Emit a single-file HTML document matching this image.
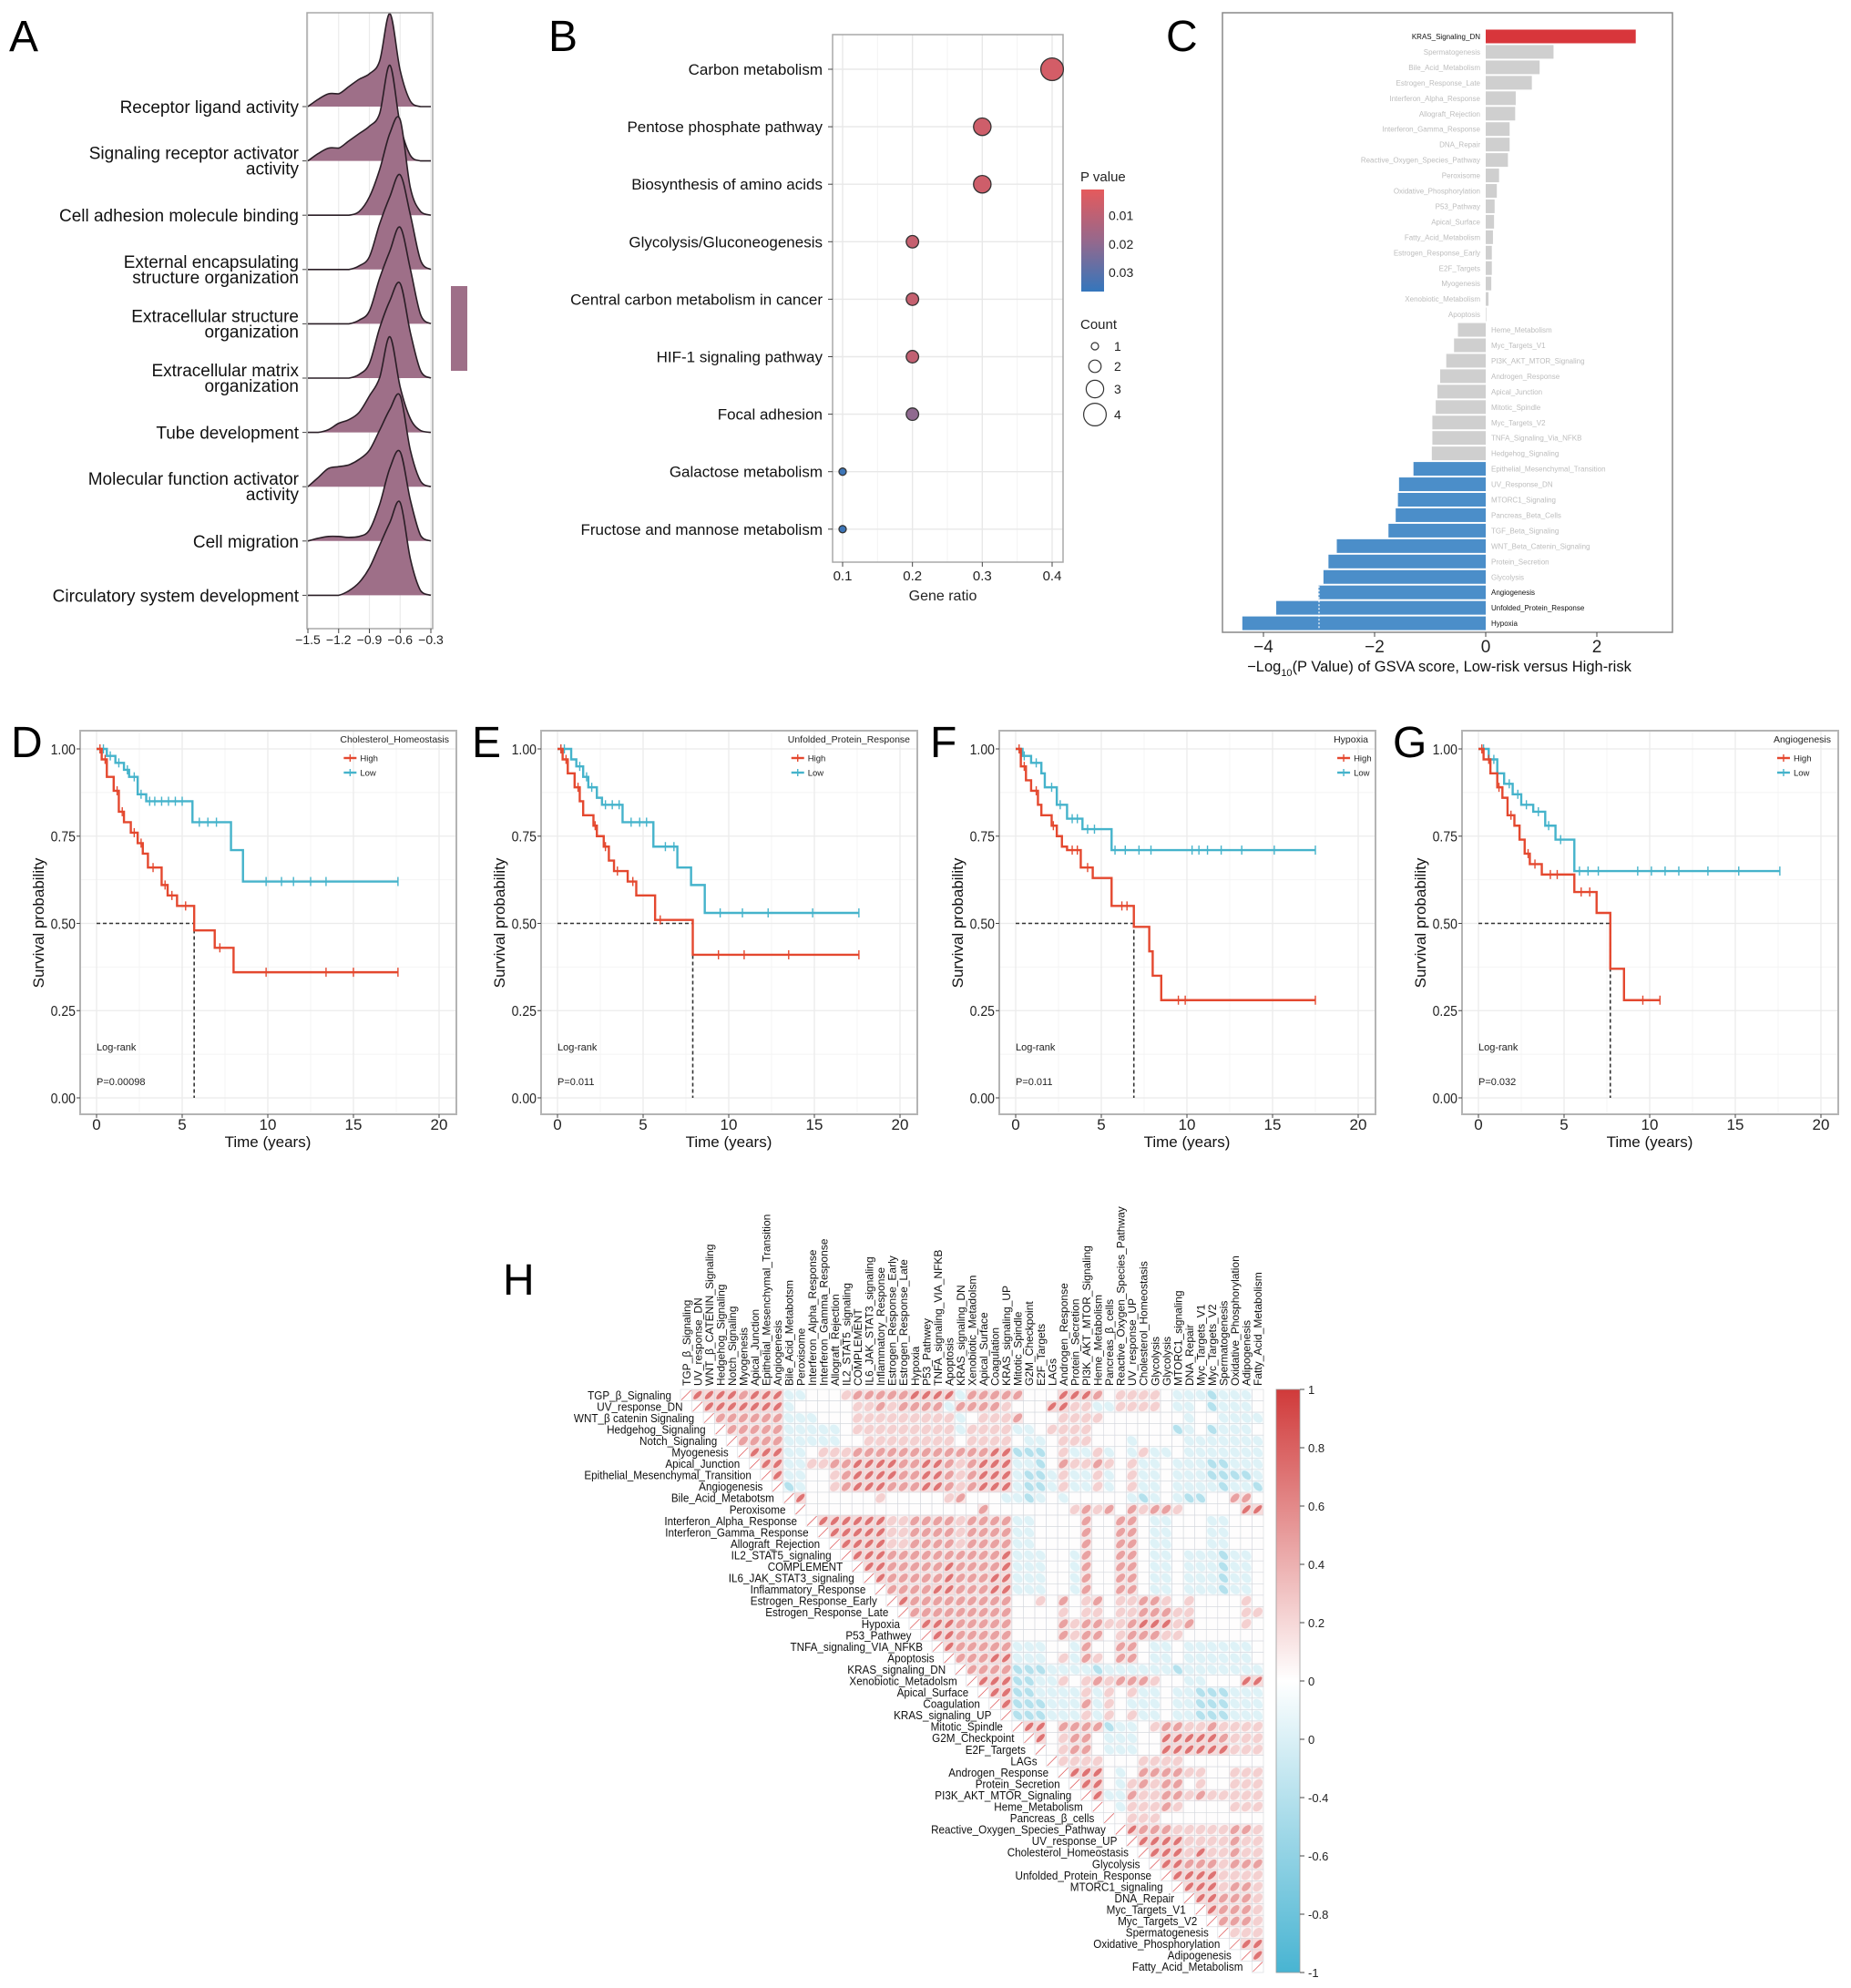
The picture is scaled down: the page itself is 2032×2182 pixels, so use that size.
<!DOCTYPE html>
<html><head><meta charset="utf-8"><style>
html,body{margin:0;padding:0;background:#fff;}
svg{display:block;}
</style></head><body>
<svg id="fig" width="2032" height="2182" viewBox="0 0 2032 2182" xmlns="http://www.w3.org/2000/svg" font-family="Liberation Sans, Arial, sans-serif">
<rect x="0" y="0" width="2032" height="2182" fill="#fff"/>
</svg>
<script>
// ---------- Panel A data ----------
const ridgeNames = [["Receptor ligand activity"],["Signaling receptor activator","activity"],["Cell adhesion molecule binding"],["External encapsulating","structure organization"],["Extracellular structure","organization"],["Extracellular matrix","organization"],["Tube development"],["Molecular function activator","activity"],["Cell migration"],["Circulatory system development"]];
const ridgeGrid = [-1.5,-1.4,-1.3,-1.2,-1.1,-1.0,-0.9,-0.8,-0.7,-0.6,-0.5,-0.4,-0.3];
const ridge0 = [0,8,14,14,22,30,36,50,102,40,6,0,0];
const ridge1 = [0,8,14,14,22,30,38,52,105,40,6,0,0];
const ridge2 = [0,0,0,0,0,4,20,50,90,105,30,4,0];
const ridge3 = [0,0,0,0,0,4,14,50,80,104,60,10,0];
const ridge4 = [0,0,0,0,0,4,14,50,80,106,60,10,0];
const ridge5 = [0,0,0,0,0,4,16,55,85,104,50,8,0];
const ridge6 = [0,0,3,10,14,22,40,60,105,50,15,2,0];
const ridge7 = [0,10,20,22,24,30,40,62,85,100,40,6,0];
const ridge8 = [0,3,5,5,4,5,12,40,80,98,45,6,0];
const ridge9 = [0,0,0,0,5,14,30,55,80,102,40,5,0];
const ridgeTicks = [-1.5,-1.2,-0.9,-0.6,-0.3];
const ridgeTickLabels = ["\u22121.5","\u22121.2","\u22120.9","\u22120.6","\u22120.3"];

// ---------- Panel B data ----------
const keggTerms = ["Carbon metabolism","Pentose phosphate pathway","Biosynthesis of amino acids","Glycolysis/Gluconeogenesis","Central carbon metabolism in cancer","HIF-1 signaling pathway","Focal adhesion","Galactose metabolism","Fructose and mannose metabolism"];
const keggRatio = [0.4,0.3,0.3,0.2,0.2,0.2,0.2,0.1,0.1];
const keggCount = [4,3,3,2,2,2,2,1,1];
const keggP = [0.005,0.006,0.006,0.008,0.008,0.009,0.02,0.035,0.035];
const keggTicks = [0.1,0.2,0.3,0.4];
const pLegendTicks = [0.01,0.02,0.03];
const countLegend = [1,2,3,4];

// ---------- Panel C data ----------
const gsvaNames = ["KRAS_Signaling_DN","Spermatogenesis","Bile_Acid_Metabolism","Estrogen_Response_Late","Interferon_Alpha_Response","Allograft_Rejection","Interferon_Gamma_Response","DNA_Repair","Reactive_Oxygen_Species_Pathway","Peroxisome","Oxidative_Phosphorylation","P53_Pathway","Apical_Surface","Fatty_Acid_Metabolism","Estrogen_Response_Early","E2F_Targets","Myogenesis","Xenobiotic_Metabolism","Apoptosis","Heme_Metabolism","Myc_Targets_V1","PI3K_AKT_MTOR_Signaling","Androgen_Response","Apical_Junction","Mitotic_Spindle","Myc_Targets_V2","TNFA_Signaling_Via_NFKB","Hedgehog_Signaling","Epithelial_Mesenchymal_Transition","UV_Response_DN","MTORC1_Signaling","Pancreas_Beta_Cells","TGF_Beta_Signaling","WNT_Beta_Catenin_Signaling","Protein_Secretion","Glycolysis","Angiogenesis","Unfolded_Protein_Response","Hypoxia"];
const gsvaValues = [2.70,1.22,0.97,0.83,0.54,0.53,0.43,0.43,0.40,0.24,0.20,0.16,0.15,0.13,0.11,0.11,0.10,0.05,0.01,-0.50,-0.57,-0.71,-0.82,-0.87,-0.90,-0.96,-0.96,-0.97,-1.30,-1.56,-1.58,-1.62,-1.75,-2.68,-2.83,-2.92,-3.01,-3.77,-4.38];
const gsvaHighlight = ["KRAS_Signaling_DN","Angiogenesis","Unfolded_Protein_Response","Hypoxia"];
const gsvaTicks = [-4,-2,0,2];

// ---------- KM data ----------
const kmTitles = ["Cholesterol_Homeostasis","Unfolded_Protein_Response","Hypoxia","Angiogenesis"];
const kmLetters = ["D","E","F","G"];
const kmPvals = ["P=0.00098","P=0.011","P=0.011","P=0.032"];
const kmMedians = [5.7,7.9,6.9,7.7];
const kmHighT = [[0,0.3,0.6,1.0,1.3,1.6,2.0,2.4,2.7,3.0,3.8,4.15,4.7,5.7,6.9,8.0],[0,0.3,0.6,1.0,1.3,1.5,2.1,2.3,2.7,3.0,3.3,4.1,4.6,5.7,7.9],[0,0.3,0.6,0.9,1.3,1.5,2.1,2.4,2.7,3.0,3.8,4.5,5.6,6.9,7.8,8.0,8.5],[0,0.3,0.7,1.1,1.4,1.7,2.1,2.4,2.7,3.0,3.7,5.6,6.9,7.7,8.5]];
const kmHighS = [[1,0.97,0.92,0.88,0.82,0.79,0.76,0.73,0.70,0.66,0.61,0.58,0.55,0.48,0.43,0.36],[1,0.97,0.93,0.89,0.85,0.81,0.78,0.75,0.72,0.68,0.65,0.62,0.58,0.51,0.41],[1,0.95,0.91,0.88,0.84,0.81,0.78,0.75,0.72,0.71,0.66,0.63,0.55,0.49,0.42,0.35,0.28],[1,0.97,0.93,0.89,0.86,0.81,0.78,0.74,0.70,0.67,0.64,0.59,0.53,0.37,0.28]];
const kmHighEnd = [17.6,17.6,17.5,10.6];
const kmLowT = [[0,0.6,1.1,1.6,1.9,2.4,2.9,5.6,7.85,8.55],[0,0.8,1.1,1.5,1.8,2.3,2.6,3.8,5.6,7.0,7.8,8.6],[0,0.4,0.9,1.5,1.7,2.4,3.0,3.9,5.6],[0,0.6,1.1,1.5,2.0,2.5,3.2,3.9,4.5,5.6]];
const kmLowS = [[1,0.98,0.96,0.94,0.92,0.87,0.85,0.79,0.71,0.62],[1,0.97,0.95,0.92,0.89,0.86,0.84,0.79,0.72,0.66,0.61,0.53],[1,0.98,0.96,0.93,0.89,0.84,0.80,0.77,0.71],[1,0.97,0.93,0.90,0.87,0.84,0.82,0.78,0.74,0.65]];
const kmLowEnd = [17.6,17.6,17.5,17.6];
const kmHighCens = [[0.2,0.5,1.2,1.5,2.2,2.6,3.3,4.0,4.4,5.2,7.2,9.9,13.4,15.0,17.6],[0.2,0.5,1.2,2.2,2.8,3.5,4.4,6.0,9.4,10.9,13.5,17.6],[0.2,0.5,1.2,2.2,3.3,3.6,4.2,6.2,6.5,9.5,9.9,17.5],[0.2,0.6,1.2,1.9,2.9,3.3,4.2,4.6,6.0,6.5,9.6,10.6]];
const kmLowCens = [[0.4,0.8,1.3,1.8,2.2,2.6,3.1,3.4,3.8,4.2,4.6,5.0,6.0,6.5,7.0,9.9,10.8,11.5,12.5,13.4,17.6],[0.2,0.4,1.3,1.7,2.0,2.8,3.2,3.6,4.3,4.8,5.2,6.3,6.8,9.5,10.8,12.3,14.9,17.6],[0.5,1.2,2.1,2.6,3.3,3.6,4.2,4.6,5.8,6.4,7.2,7.9,10.3,10.7,11.2,12.0,13.2,15.1,17.5],[0.3,0.9,1.8,2.3,2.8,3.5,4.1,4.8,5.9,6.4,7.0,9.3,10.1,10.9,11.7,13.4,15.2,17.6]];
const kmYTicks = [0,0.25,0.5,0.75,1];
const kmYLabels = ["0.00","0.25","0.50","0.75","1.00"];
const kmXTicks = [0,5,10,15,20];

// ---------- Heatmap H data ----------
const hmRowNames = ["TGP_\u03b2_Signaling","UV_response_DN","WNT_\u03b2 catenin Signaling","Hedgehog_Signaling","Notch_Signaling","Myogenesis","Apical_Junction","Epithelial_Mesenchymal_Transition","Angiogenesis","Bile_Acid_Metabotsm","Peroxisome","Interferon_Alpha_Response","Interferon_Gamma_Response","Allograft_Rejection","IL2_STAT5_signaling","COMPLEMENT","IL6_JAK_STAT3_signaling","Inflammatory_Response","Estrogen_Response_Early","Estrogen_Response_Late","Hypoxia","P53_Pathwey","TNFA_signaling_VIA_NFKB","Apoptosis","KRAS_signaling_DN","Xenobiotic_Metadolsm","Apical_Surface","Coagulation","KRAS_signaling_UP","Mitotic_Spindle","G2M_Checkpoint","E2F_Targets","LAGs","Androgen_Response","Protein_Secretion","PI3K_AKT_MTOR_Signaling","Heme_Metabolism","Pancreas_\u03b2_cells","Reactive_Oxygen_Species_Pathway","UV_response_UP","Cholesterol_Homeostasis","Glycolysis","Unfolded_Protein_Response","MTORC1_signaling","DNA_Repair","Myc_Targets_V1","Myc_Targets_V2","Spermatogenesis","Oxidative_Phosphorylation","Adipogenesis","Fatty_Acid_Metabolism"];
const hmColNames = ["TGP_\u03b2_Signaling","UV_response_DN","WNT_\u03b2_CATENIN_Signaling","Hedgehog_Signaling","Notch_Signaling","Myogenesis","Apical_Junction","Epithelial_Mesenchymal_Transition","Angiogenesis","Bile_Acid_Metabotsm","Peroxisome","Interferon_Alpha_Response","Interferon_Gamma_Response","Allograft_Rejection","IL2_STAT5_signaling","COMPLEMENT","IL6_JAK_STAT3_signaling","Inflammatory_Response","Estrogen_Response_Early","Estrogen_Response_Late","Hypoxia","P53_Pathwey","TNFA_signaling_VIA_NFKB","Apoptosis","KRAS_signaling_DN","Xenobiotic_Metadolsm","Apical_Surface","Coagulation","KRAS_signaling_UP","Mitotic_Spindle","G2M_Checkpoint","E2F_Targets","LAGs","Androgen_Response","Protein_Secretion","PI3K_AKT_MTOR_Signaling","Heme_Metabolism","Pancreas_\u03b2_cells","Reactive_Oxygen_Species_Pathway","UV_response_UP","Cholesterol_Homeostasis","Glycolysis","Glycolysis","MTORC1_signaling","DNA_Repair","Myc_Targets_V1","Myc_Targets_V2","Spermatogenesis","Oxidative_Phosphorylation","Adipogenesis","Fatty_Acid_Metabolism"];
// level codes: R=0.75 r=0.5 p=0.25 w=0.05 b=-0.2 B=-0.45 ; row i covers columns i+1..50
const hmLevels = {R:0.75,r:0.5,p:0.25,w:0.05,b:-0.2,B:-0.45};
const hmRows = [
"RRRRrRRRbbwwwprrrrrRRRRbrrrrrwwwRRRrwppppwbbbBbbb",
"RRRRRRRbwwwwwpprprrrrbrrrrpwwwRRppbbppppwbbwBbbb",
"rrrrrrbbbwwwpppppppppbwppprwwwppppwwwwwwwbwwbbbb",
"rrrrrbbbbbwpppppppppbppppbbwppppwwwwwwwBbwBbbb",
"rrrrbbbbbwwppppppppwppppwbbwpppwwwbwwwwbbbbbbb",
"RRRbbwppprrrrrrrrrrrrRRBBBwpbbpbwbpbbwbbbbbbb",
"RRbbpprrRRRRrrRRrprRRRbbBwrpprpwpbbwbbbBBbbb",
"RbbwwprRRRRrrRRrprRRRbBBbpbbpbwpbbwbbbBBBBb",
"BbwwprRRRrrrRRrprRRRbBBbpbbpbwpbbwbbbbBbbB",
"RwwwwwwpwwwwwprwwwbbBbwbwwwwwbBbwbBBwwrr",
"wwwwwwwwwwwwwwwrwwwwwwwprprwrprrpwwwwwRRR",
"RRRRRRpprrrrprrrrbbwwwwrwwrrwbbwwwbbwww",
"RRRRRpprrrrprrrrbbwwwwrwwrrwbbwwwbbwww",
"RRRRpprrrrprrrrbbwwwwrwwrrwbbwwwbbwww",
"RRRrrrrrrrrrrRbbbwwbrwwrrwbbwbbbBbbw",
"RRrrrrrRrrrrRbbbwwbrwwrrwbbwbbbBbbw",
"RrrrrrRrrrRRbbbwwbrwwrrwbbwbbbBbbw",
"rrrrRRrrrRRbbbwwbrwwrrwbbwbbbBbbw",
"Rrrrrrrrrrwwpwrwprwpprrpwpwwwwpw",
"rrrrrrrrrwwwwpwppwpprrrppwwwwpp",
"RRRrrrrrwwwwrprrpprRRRprwwwwpw",
"RRrrrrrwwwwrprrwprrrppwwwwwww",
"Rrrrrrbbbwwbrwwrrwbbwbbbbbbw",
"rrrRRbbbwpbrpwrrwbbwbbbbbbw",
"rrrrBBBbbbbBbbbbbbBbbbbbbb",
"RRRBBbbpwprprrrpwwbbwwwRR",
"RRBBbbbbpbpwpbbwbbBBBbbb",
"RBBBbbbrbpwbbbwbbBBBbbb",
"BBBbbbpbpwpbbwbbBBBbbb",
"RRwrrrrBbbwprrpprpppp",
"RwprrwbbbwwRRRRRrppp",
"wprrwbbbwwRRRRRRppp",
"ppppwwwppppwwwwwww",
"RRRwbwrrrrppwwppp",
"RRwbprprrwpwwppp",
"Rbbrpprrprppppp",
"wbppprpwwwwppp",
"wpppwwwwwwwww",
"Rrrrppppprrp",
"RRRRpppprpp",
"RRRpRpprpp",
"RRrrrprrr",
"RRRRpppp",
"RRRprrp",
"RRrrrp",
"Rrrrp",
"rrrp",
"ppp",
"RR",
"R",
""
];
const cbLabels = ["1","0.8","0.6","0.4","0.2","0","0","-0.4","-0.6","-0.8","-1"];

// ---------- helpers ----------
const NS = "http://www.w3.org/2000/svg";
const svg = document.getElementById("fig");
function mk(tag, attrs, parent) {
  const e = document.createElementNS(NS, tag);
  for (const k in attrs) e.setAttribute(k, attrs[k]);
  (parent || svg).appendChild(e);
  return e;
}
function tx(str, attrs, parent) { const e = mk("text", attrs, parent); e.textContent = str; return e; }
function grp(parent) { return mk("g", {}, parent); }
function smoothPath(pts) {
  let d = "M" + pts[0][0].toFixed(2) + "," + pts[0][1].toFixed(2);
  for (let i = 0; i < pts.length - 1; i++) {
    const p0 = pts[Math.max(0, i - 1)], p1 = pts[i], p2 = pts[i + 1], p3 = pts[Math.min(pts.length - 1, i + 2)];
    const c1x = p1[0] + (p2[0] - p0[0]) / 6, c1y = p1[1] + (p2[1] - p0[1]) / 6;
    const c2x = p2[0] - (p3[0] - p1[0]) / 6, c2y = p2[1] - (p3[1] - p1[1]) / 6;
    d += " C" + c1x.toFixed(2) + "," + Math.min(c1y, Math.max(p1[1], p2[1])).toFixed(2) + " " + c2x.toFixed(2) + "," + Math.min(c2y, Math.max(p1[1], p2[1])).toFixed(2) + " " + p2[0].toFixed(2) + "," + p2[1].toFixed(2);
  }
  return d;
}
function letter(ch, x, y, name) {
  const t = tx(ch, {x: x, y: y, "font-size": 48, fill: "#000"});
  
  
}

// ================= Panel A =================
(function () {
  const g = grp();
  
  
  const ax = v => 338 + (v + 1.5) / 1.2 * 135;
  const ay = i => 117 + i * 59.6;
  letter("A", 10, 56, "panel-letter-a");
  ridgeTicks.forEach(v => { const l = mk("line", {x1: ax(v), x2: ax(v), y1: 14, y2: 690, stroke: "#ebebeb", "stroke-width": 1.2}, g);   });
  const ridges = [ridge0, ridge1, ridge2, ridge3, ridge4, ridge5, ridge6, ridge7, ridge8, ridge9];
  ridges.forEach((dens, i) => {
    const base = ay(i);
    const pts = ridgeGrid.map((v, k) => [ax(v), base - dens[k]]);
    const d = smoothPath(pts);
    const area = mk("path", {d: d + " L" + ax(-0.3) + "," + base + " L" + ax(-1.5) + "," + base + " Z", fill: "#9e6f88", stroke: "none"}, g);
    
    
    const line = mk("path", {d: d, fill: "none", stroke: "#2a1e26", "stroke-width": 1.6}, g);
    
    
    const names = ridgeNames[i];
    names.forEach((n, k) => {
      const yy = names.length === 1 ? base + 7 : base - 2 + (k) * 17;
      const t = tx(n, {x: 328, y: yy, "text-anchor": "end", "font-size": 19, fill: "#111"}, g);
      
      
    });
    const tk = mk("line", {x1: 332, x2: 337, y1: base, y2: base, stroke: "#444", "stroke-width": 1}, g);
    
    
  });
  const box = mk("rect", {x: 337, y: 14, width: 138, height: 676, fill: "none", stroke: "#a8a8a8", "stroke-width": 1.5}, g);
  
  
  ridgeTicks.forEach((v, k) => {
    const t = mk("line", {x1: ax(v), x2: ax(v), y1: 690, y2: 695, stroke: "#444"}, g);
    
    
    const l = tx(ridgeTickLabels[k], {x: ax(v), y: 707, "text-anchor": "middle", "font-size": 14, fill: "#222"}, g);
    
    
  });
  const leg = mk("rect", {x: 495, y: 314, width: 18, height: 93, fill: "#9e6f88"}, g);
  
  
})();

// ================= Panel B =================
(function () {
  const g = grp();
  
  
  letter("B", 602, 56, "panel-letter-b");
  const bx = v => 925 + (v - 0.1) / 0.3 * 230;
  const by = i => 76 + i * 63.1;
  const rr = c => 4 + (c - 1) * 2.8;
  function pColor(p) {
    let t = (p - 0.0008) / (0.0367 - 0.0008); t = Math.max(0, Math.min(1, t));
    const s = [[229, 90, 92], [150, 104, 140], [52, 118, 188]];
    let a, b, u;
    if (t < 0.5) { a = s[0]; b = s[1]; u = t / 0.5; } else { a = s[1]; b = s[2]; u = (t - 0.5) / 0.5; }
    return "rgb(" + a.map((c, k) => Math.round(c + (b[k] - c) * u)).join(",") + ")";
  }
  [0.15, 0.25, 0.35].forEach(v => { const l = mk("line", {x1: bx(v), x2: bx(v), y1: 38, y2: 617, stroke: "#f3f3f3", "stroke-width": 1}, g);   });
  keggTicks.forEach(v => { const l = mk("line", {x1: bx(v), x2: bx(v), y1: 38, y2: 617, stroke: "#e8e8e8", "stroke-width": 1.4}, g);   });
  keggTerms.forEach((n, i) => {
    const l = mk("line", {x1: 914, x2: 1167, y1: by(i), y2: by(i), stroke: "#e8e8e8", "stroke-width": 1.4}, g);
    
    
  });
  const box = mk("rect", {x: 914, y: 38, width: 253, height: 579, fill: "none", stroke: "#a8a8a8", "stroke-width": 1.5}, g);
  
  
  keggTerms.forEach((n, i) => {
    const t = tx(n, {x: 903, y: by(i) + 6, "text-anchor": "end", "font-size": 17, fill: "#111"}, g);
    
    
    const tk = mk("line", {x1: 909, x2: 914, y1: by(i), y2: by(i), stroke: "#444"}, g);
    
    
    const c = mk("circle", {cx: bx(keggRatio[i]), cy: by(i), r: rr(keggCount[i]), fill: pColor(keggP[i]), stroke: "#333", "stroke-width": 1.3}, g);
    
    
  });
  keggTicks.forEach(v => {
    const tk = mk("line", {x1: bx(v), x2: bx(v), y1: 617, y2: 622, stroke: "#444"}, g);
    
    
    const t = tx(String(v), {x: bx(v), y: 637, "text-anchor": "middle", "font-size": 15, fill: "#222"}, g);
    
    
  });
  const xt = tx("Gene ratio", {x: 1035, y: 659, "text-anchor": "middle", "font-size": 16, fill: "#222"}, g);
  
  
  const pt = tx("P value", {x: 1186, y: 199, "font-size": 15, fill: "#222"}, g);
  
  
  const defs = mk("defs", {}, g);
  const lg = mk("linearGradient", {id: "pgrad", x1: 0, y1: 0, x2: 0, y2: 1}, defs);
  mk("stop", {offset: "0", "stop-color": pColor(0.0008)}, lg);
  mk("stop", {offset: "0.5", "stop-color": pColor(0.01875)}, lg);
  mk("stop", {offset: "1", "stop-color": pColor(0.0367)}, lg);
  const cb = mk("rect", {x: 1187, y: 208, width: 25, height: 112, fill: "url(#pgrad)"}, g);
  
  
  const py = p => 208 + (p - 0.0008) / (0.0367 - 0.0008) * 112;
  pLegendTicks.forEach(p => {
    const t = tx(String(p), {x: 1217, y: py(p) + 5, "font-size": 14, fill: "#222"}, g);
    
    
  });
  const ct = tx("Count", {x: 1186, y: 361, "font-size": 15, fill: "#222"}, g);
  
  
  const cys = [380, 402, 427, 455];
  countLegend.forEach((c, k) => {
    const cc = mk("circle", {cx: 1202, cy: cys[k], r: rr(c), fill: "none", stroke: "#333", "stroke-width": 1.2}, g);
    
    
    const t = tx(String(c), {x: 1223, y: cys[k] + 5, "font-size": 14, fill: "#222"}, g);
    
    
  });
})();

// ================= Panel C =================
(function () {
  const g = grp();
  
  
  letter("C", 1280, 56, "panel-letter-c");
  const cx = v => 1631 + v * 61;
  const cy = i => 40 + i * 16.95;
  gsvaValues.forEach((v, i) => {
    const col = v > 2 ? "#d8363b" : (v < -1.2 ? "#4b8ec9" : "#cfcfcf");
    const x = Math.min(cx(0), cx(v));
    const r = mk("rect", {x: x, y: cy(i) - 7.5, width: Math.abs(cx(v) - cx(0)), height: 15, fill: col}, g);
    
    
    const hl = gsvaHighlight.indexOf(gsvaNames[i]) >= 0;
    const t = tx(gsvaNames[i], {x: v >= 0 ? cx(0) - 6 : cx(0) + 6, y: cy(i) + 3, "text-anchor": v >= 0 ? "end" : "start", "font-size": 8, fill: hl ? "#111" : "#bdbdbd"}, g);
    
    
  });
  const dl = mk("line", {x1: cx(-3.0), x2: cx(-3.0), y1: cy(36) - 7, y2: cy(38) + 7, stroke: "#fff", "stroke-width": 1.2, "stroke-dasharray": "2,2"}, g);
  
  
  const box = mk("rect", {x: 1342, y: 14, width: 494, height: 680, fill: "none", stroke: "#888", "stroke-width": 1.5}, g);
  
  
  gsvaTicks.forEach(v => {
    const tk = mk("line", {x1: cx(v), x2: cx(v), y1: 694, y2: 699, stroke: "#444"}, g);
    
    
    const t = tx(v < 0 ? "\u2212" + Math.abs(v) : String(v), {x: cx(v), y: 716, "text-anchor": "middle", "font-size": 19, fill: "#222"}, g);
    
    
  });
  const at = mk("text", {x: 1580, y: 737, "text-anchor": "middle", "font-size": 16.5, fill: "#111"}, g);
  
  
  const s1 = mk("tspan", {}, at); s1.textContent = "\u2212Log";
  const s2 = mk("tspan", {dy: 5, "font-size": 11}, at); s2.textContent = "10";
  const s3 = mk("tspan", {dy: -5}, at); s3.textContent = "(P Value) of GSVA score, Low-risk versus High-risk";
})();

// ================= KM panels D-G =================
(function () {
  const lefts = [88, 594, 1097, 1605];
  kmTitles.forEach((title, p) => {
    const L = lefts[p];
    const g = grp();
    
    
    const tX = t => L + 18 + t * 18.8;
    const sY = s => 1205 - s * 383;
    letter(kmLetters[p], L - 76, 831, "panel-letter-" + kmLetters[p].toLowerCase());
    [2.5, 7.5, 12.5, 17.5].forEach(t => { const l = mk("line", {x1: tX(t), x2: tX(t), y1: 802, y2: 1223, stroke: "#f4f4f4", "stroke-width": 1}, g);   });
    [0.125, 0.375, 0.625, 0.875].forEach(s => { const l = mk("line", {x1: L, x2: L + 413, y1: sY(s), y2: sY(s), stroke: "#f4f4f4", "stroke-width": 1}, g);   });
    kmXTicks.forEach(t => { const l = mk("line", {x1: tX(t), x2: tX(t), y1: 802, y2: 1223, stroke: "#ebebeb", "stroke-width": 1.3}, g);   });
    kmYTicks.forEach(s => { const l = mk("line", {x1: L, x2: L + 413, y1: sY(s), y2: sY(s), stroke: "#ebebeb", "stroke-width": 1.3}, g);   });
    const med = kmMedians[p];
    const mh = mk("line", {x1: tX(0), x2: tX(med), y1: sY(0.5), y2: sY(0.5), stroke: "#333", "stroke-width": 1.6, "stroke-dasharray": "4,3"}, g);
    
    
    const mv = mk("line", {x1: tX(med), x2: tX(med), y1: sY(0.5), y2: sY(0), stroke: "#333", "stroke-width": 1.6, "stroke-dasharray": "4,3"}, g);
    
    
    const series = [[kmLowT[p], kmLowS[p], kmLowEnd[p], kmLowCens[p], "#45b3cb", "low"], [kmHighT[p], kmHighS[p], kmHighEnd[p], kmHighCens[p], "#e4482f", "high"]];
    series.forEach(([T, S, end, C, col, nm]) => {
      let d = "M" + tX(T[0]) + "," + sY(S[0]);
      for (let k = 1; k < T.length; k++) d += " H" + tX(T[k]).toFixed(2) + " V" + sY(S[k]).toFixed(2);
      d += " H" + tX(end).toFixed(2);
      const path = mk("path", {d: d, fill: "none", stroke: col, "stroke-width": 2.4}, g);
      
      
      C.forEach(c => {
        let s = S[0];
        for (let k = 0; k < T.length; k++) if (T[k] <= c) s = S[k];
        const m = mk("line", {x1: tX(c), x2: tX(c), y1: sY(s) - 5, y2: sY(s) + 5, stroke: col, "stroke-width": 1.4}, g);
        
        
      });
    });
    const box = mk("rect", {x: L, y: 802, width: 413, height: 421, fill: "none", stroke: "#b4b4b4", "stroke-width": 2}, g);
    
    
    kmYTicks.forEach((s, k) => {
      const tk = mk("line", {x1: L - 4, x2: L, y1: sY(s), y2: sY(s), stroke: "#444"}, g);
      
      
      const t = tx(kmYLabels[k], {x: L - 5, y: sY(s) + 6, "text-anchor": "end", "font-size": 16, fill: "#222", transform: "translate(" + (L - 5) + ",0) scale(0.88,1) translate(" + (-(L - 5)) + ",0)"}, g);
      
      
    });
    kmXTicks.forEach(t0 => {
      const tk = mk("line", {x1: tX(t0), x2: tX(t0), y1: 1223, y2: 1227, stroke: "#444"}, g);
      
      
      const t = tx(String(t0), {x: tX(t0), y: 1240, "text-anchor": "middle", "font-size": 17, fill: "#222"}, g);
      
      
    });
    const xt = tx("Time (years)", {x: L + 206, y: 1259, "text-anchor": "middle", "font-size": 17, fill: "#111"}, g);
    
    
    const yt = tx("Survival probability", {x: 0, y: 0, "text-anchor": "middle", "font-size": 17, fill: "#111", transform: "translate(" + (L - 40) + ",1013) rotate(-90)"}, g);
    
    
    const lr = tx("Log-rank", {x: tX(0), y: 1153, "font-size": 11, fill: "#222"}, g);
    
    
    const pv = tx(kmPvals[p], {x: tX(0), y: 1191, "font-size": 11, fill: "#222"}, g);
    
    
    const lt = tx(title, {x: L + 405, y: 815, "text-anchor": "end", "font-size": 10.5, fill: "#222"}, g);
    
    
    let w = 100;
    try { w = lt.getComputedTextLength(); } catch (e) {}
    const lx = L + 405 - w;
    [["High", "#e4482f", 832], ["Low", "#45b3cb", 848]].forEach(([nm, col, yy]) => {
      const kl = mk("line", {x1: lx + 4, x2: lx + 18, y1: yy, y2: yy, stroke: col, "stroke-width": 2.4}, g);
      
      
      const kc = mk("line", {x1: lx + 11, x2: lx + 11, y1: yy - 4, y2: yy + 4, stroke: col, "stroke-width": 1.4}, g);
      
      
      const kt = tx(nm, {x: lx + 22, y: yy + 3.5, "font-size": 9.5, fill: "#222"}, g);
      
      
    });
  });
})();

// ================= Panel H heatmap =================
(function () {
  const g = grp();
  
  
  letter("H", 552, 1421, "panel-letter-h");
  const n = hmRowNames.length;
  const x0 = 747, y0 = 1525, cs = 640 / n;
  function col(r, f) {
    const a = r >= 0 ? [208, 58, 58] : [80, 184, 212];
    const t = Math.min(1, Math.abs(r) * f);
    return "rgb(" + a.map(c => Math.round(255 + (c - 255) * t)).join(",") + ")";
  }
  for (let i = 0; i < n; i++) {
    const row = hmRows[i] || "";
    for (let j = i; j < n; j++) {
      const x = x0 + j * cs, y = y0 + i * cs;
      if (j === i) {
        const dc = mk("rect", {x: x, y: y, width: cs, height: cs, fill: "#fff", stroke: "#d4d7dd", "stroke-width": 0.6}, g);
        
        
        const dl = mk("line", {x1: x + 1, y1: y + cs - 1, x2: x + cs - 1, y2: y + 1, stroke: "#e06466", "stroke-width": 0.8}, g);
        
        
        continue;
      }
      const code = row.charAt(j - i - 1) || "w";
      const r = hmLevels[code];
      const c = mk("rect", {x: x, y: y, width: cs, height: cs, fill: col(r, 0.24), stroke: "#d4d7dd", "stroke-width": 0.6}, g);
      
      
      if (Math.abs(r) >= 0.2) {
        const ry = cs * 0.5 * Math.sqrt(1 - Math.abs(r)) * 0.8;
        const e = mk("ellipse", {cx: x + cs / 2, cy: y + cs / 2, rx: cs * 0.48, ry: ry, fill: col(r, 0.95), transform: "rotate(" + (r > 0 ? -45 : 45) + " " + (x + cs / 2) + " " + (y + cs / 2) + ")"}, g);
        
        
      }
    }
  }
  hmRowNames.forEach((nm, i) => {
    const xx = x0 + i * cs - 10, yy = y0 + (i + 0.5) * cs + 4.5;
    const t = tx(nm, {x: 0, y: 0, "text-anchor": "end", "font-size": 13, fill: "#111", transform: "translate(" + xx + "," + yy + ") scale(0.9,1)"}, g);
    
    
  });
  hmColNames.forEach((nm, j) => {
    const xx = x0 + (j + 0.5) * cs + 4.5, yy = y0 - 4;
    const t = tx(nm, {x: 0, y: 0, "font-size": 12, fill: "#111", transform: "translate(" + xx + "," + yy + ") rotate(-90)"}, g);
    
    
  });
  const defs = mk("defs", {}, g);
  const lg = mk("linearGradient", {id: "hgrad", x1: 0, y1: 0, x2: 0, y2: 1}, defs);
  mk("stop", {offset: "0", "stop-color": "rgb(208,58,58)"}, lg);
  mk("stop", {offset: "0.5", "stop-color": "#ffffff"}, lg);
  mk("stop", {offset: "1", "stop-color": "rgb(72,180,210)"}, lg);
  const cb = mk("rect", {x: 1401, y: 1525, width: 26, height: 640, fill: "url(#hgrad)", stroke: "#999", "stroke-width": 0.8}, g);
  
  
  cbLabels.forEach((lab, k) => {
    const yy = 1525 + k * 64;
    const tk = mk("line", {x1: 1427, x2: 1432, y1: yy, y2: yy, stroke: "#444"}, g);
    
    
    const t = tx(lab, {x: 1436, y: yy + 5, "font-size": 13, fill: "#222"}, g);
    
    
  });
})();
</script>
</body></html>
